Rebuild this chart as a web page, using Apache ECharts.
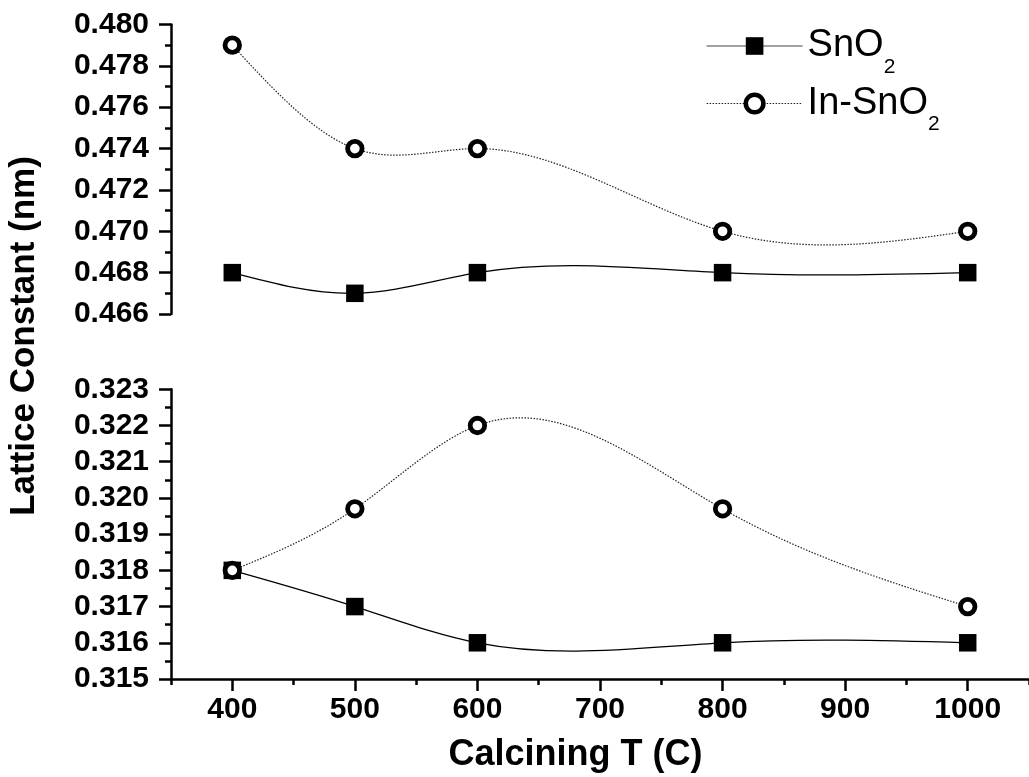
<!DOCTYPE html>
<html><head><meta charset="utf-8">
<script src="https://cdn.jsdelivr.net/npm/echarts@6/dist/echarts.min.js"></script>
<style>html,body{margin:0;padding:0;background:#fff}#c{width:1029px;height:777px}</style>
</head><body><div id="c"></div>
<script>
const temps = [400, 500, 600, 800, 1000];
const sno2Upper = [0.468, 0.467, 0.468, 0.468, 0.468];
const inSno2Upper = [0.479, 0.474, 0.474, 0.470, 0.470];
const sno2Lower = [0.318, 0.317, 0.316, 0.316, 0.316];
const inSno2Lower = [0.318, 0.3197, 0.322, 0.3197, 0.317];
const xMajorTicks = [400, 500, 600, 700, 800, 900, 1000];
const xMinorTicks = [350, 450, 550, 650, 750, 850, 950, 1050];
const xTitle = 'Calcining T (C)';
const yTitle = 'Lattice Constant (nm)';

const FONT = "'Liberation Sans', Arial, Helvetica, sans-serif";
const pairs = (ys) => temps.map((t, i) => [t, ys[i]]);

// Natural cubic spline slopes (curve drawing style, like Origin's spline connector)
function splineSlopes(xs, ys) {
  const n = xs.length, h = [], M = new Array(n).fill(0);
  for (let i = 0; i < n - 1; i++) h.push(xs[i + 1] - xs[i]);
  if (n > 2) {
    const a = [], b = [], c = [], d = [];
    for (let i = 1; i < n - 1; i++) {
      a.push(h[i - 1]); b.push(2 * (h[i - 1] + h[i])); c.push(h[i]);
      d.push(6 * ((ys[i + 1] - ys[i]) / h[i] - (ys[i] - ys[i - 1]) / h[i - 1]));
    }
    const m = b.length;
    for (let i = 1; i < m; i++) {
      const w = a[i] / b[i - 1];
      b[i] -= w * c[i - 1]; d[i] -= w * d[i - 1];
    }
    const sol = new Array(m);
    sol[m - 1] = d[m - 1] / b[m - 1];
    for (let i = m - 2; i >= 0; i--) sol[i] = (d[i] - c[i] * sol[i + 1]) / b[i];
    for (let i = 0; i < m; i++) M[i + 1] = sol[i];
  }
  const segs = [];
  for (let i = 0; i < n - 1; i++) {
    const s = (ys[i + 1] - ys[i]) / h[i];
    segs.push({
      m0: s - h[i] * (2 * M[i] + M[i + 1]) / 6,
      m1: s + h[i] * (M[i] + 2 * M[i + 1]) / 6
    });
  }
  return segs;
}

function curveSeries(name, ys, axisIdx, lineStyle) {
  const segs = splineSlopes(temps, ys);
  return {
    type: 'custom', name: name, coordinateSystem: 'cartesian2d',
    xAxisIndex: axisIdx, yAxisIndex: axisIdx, z: 1, silent: true,
    data: pairs(ys),
    renderItem: function (params, api) {
      const i = params.dataIndex;
      if (i >= temps.length - 1) return {type: 'group', children: []};
      const x0 = temps[i], x1 = temps[i + 1], y0 = ys[i], y1 = ys[i + 1];
      const hh = (x1 - x0) / 3;
      const p0 = api.coord([x0, y0]);
      const p1 = api.coord([x1, y1]);
      const c0 = api.coord([x0 + hh, y0 + segs[i].m0 * hh]);
      const c1 = api.coord([x1 - hh, y1 - segs[i].m1 * hh]);
      return {
        type: 'bezierCurve',
        shape: {x1: p0[0], y1: p0[1], x2: p1[0], y2: p1[1], cpx1: c0[0], cpy1: c0[1], cpx2: c1[0], cpy2: c1[1]},
        style: Object.assign({fill: null}, lineStyle)
      };
    }
  };
}

const solidLine = {stroke: '#000', lineWidth: 1.2};
const dottedLine = {stroke: '#222', lineWidth: 1.2, lineDash: [1.5, 1.5]};

const axisLine = {show: true, lineStyle: {color: '#000', width: 2.5}};
const yLabel = {color: '#000', fontFamily: FONT, fontWeight: 'bold', fontSize: 30, margin: 22,
  formatter: v => v.toFixed(3)};

const sqStyle = {
  symbol: 'rect', symbolSize: 17.5,
  itemStyle: {color: '#000'},
  lineStyle: {width: 0, opacity: 0}, z: 2
};
const ciStyle = {
  symbol: 'circle', symbolSize: 14.5,
  itemStyle: {color: '#fff', borderColor: '#000', borderWidth: 4.8},
  lineStyle: {width: 0, opacity: 0}, z: 3
};

const chart = echarts.init(document.getElementById('c'), null, {renderer: 'canvas'});
chart.setOption({
  backgroundColor: '#fff',
  animation: false,
  grid: [
    {left: 171, right: -6, top: 24.5, height: 289.5},
    {left: 171, right: -6, top: 389.3, height: 289.7}
  ],
  xAxis: [
    {type: 'value', gridIndex: 0, min: 350, max: 1050, show: false},
    {type: 'value', gridIndex: 1, min: 350, max: 1050, position: 'bottom',
      axisLine: axisLine, splitLine: {show: false},
      axisTick: {show: true, length: 12, customValues: xMajorTicks, lineStyle: {color: '#000', width: 2.5}},
      axisLabel: {customValues: xMajorTicks, formatter: v => String(v), color: '#000', fontFamily: FONT, fontWeight: 'bold', fontSize: 30, margin: 16},
      name: xTitle, nameLocation: 'middle', nameGap: 58,
      nameTextStyle: {color: '#000', fontFamily: FONT, fontWeight: 'bold', fontSize: 36, padding: [0, 49, 0, 0]}
    },
    {type: 'value', gridIndex: 1, min: 350, max: 1050, position: 'bottom',
      axisLine: {show: false}, splitLine: {show: false}, axisLabel: {show: false},
      axisTick: {show: true, length: 6, customValues: xMinorTicks, lineStyle: {color: '#000', width: 2.5}}
    }
  ],
  yAxis: [
    {type: 'value', gridIndex: 0, min: 0.466, max: 0.480, interval: 0.002,
      axisLine: axisLine, splitLine: {show: false},
      axisTick: {show: true, length: 12, lineStyle: {color: '#000', width: 2.5}},
      minorTick: {show: true, splitNumber: 2, length: 6, lineStyle: {color: '#000', width: 2.5}},
      axisLabel: yLabel},
    {type: 'value', gridIndex: 1, min: 0.315, max: 0.323, interval: 0.001,
      axisLine: axisLine, splitLine: {show: false},
      axisTick: {show: true, length: 12, lineStyle: {color: '#000', width: 2.5}},
      minorTick: {show: true, splitNumber: 2, length: 6, lineStyle: {color: '#000', width: 2.5}},
      axisLabel: yLabel}
  ],
  legend: {
    orient: 'vertical', left: 701, top: 22, itemWidth: 96, itemHeight: 22, itemGap: 7,
    data: [
      {name: 'SnO2', lineStyle: {width: 1.2, color: '#444', type: 'solid', opacity: 1}},
      {name: 'In-SnO2', itemStyle: {borderWidth: 4.5, borderColor: '#000', color: '#fff'},
        lineStyle: {width: 1.2, color: '#222', type: [1.5, 1.5], opacity: 1}}
    ],
    formatter: name => name === 'SnO2' ? '{m|SnO}{s|2}' : '{m|In-SnO}{s|2}',
    textStyle: {
      color: '#000',
      rich: {
        m: {fontFamily: FONT, fontSize: 38, color: '#000'},
        s: {fontFamily: FONT, fontSize: 21, color: '#000', padding: [42, 0, 0, 0]}
      }
    }
  },
  graphic: [{
    type: 'text', x: 24, y: 336, rotation: Math.PI / 2,
    style: {text: yTitle, font: "bold 35px " + FONT, fill: '#000', align: 'center', verticalAlign: 'middle'}
  }],
  series: [
    curveSeries('SnO2 curve upper', sno2Upper, 0, solidLine),
    curveSeries('SnO2 curve lower', sno2Lower, 1, solidLine),
    curveSeries('In-SnO2 curve upper', inSno2Upper, 0, dottedLine),
    curveSeries('In-SnO2 curve lower', inSno2Lower, 1, dottedLine),
    Object.assign({type: 'line', name: 'SnO2', xAxisIndex: 0, yAxisIndex: 0, data: pairs(sno2Upper)}, sqStyle),
    Object.assign({type: 'line', name: 'SnO2', xAxisIndex: 1, yAxisIndex: 1, data: pairs(sno2Lower)}, sqStyle),
    Object.assign({type: 'line', name: 'In-SnO2', xAxisIndex: 0, yAxisIndex: 0, data: pairs(inSno2Upper)}, ciStyle),
    Object.assign({type: 'line', name: 'In-SnO2', xAxisIndex: 1, yAxisIndex: 1, data: pairs(inSno2Lower)}, ciStyle)
  ]
});
</script></body></html>
